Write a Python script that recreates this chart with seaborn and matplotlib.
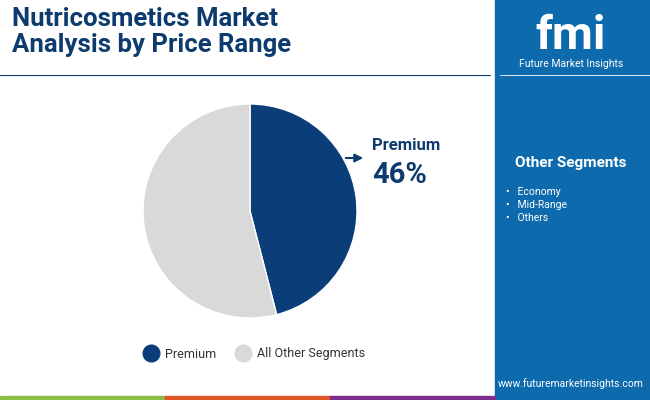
import matplotlib.pyplot as plt
import seaborn as sns
from matplotlib.patches import Rectangle

# Data
segments = ["Premium", "All Other Segments"]
shares = [46, 54]
other_segments = ["Economy", "Mid-Range", "Others"]

navy = "#0b3d79"
grey = "#d9d9d9"
panel = "#0d6aad"
title_col = "#0d3b6e"

sns.set_theme(style="white")
plt.rcParams["font.family"] = "Roboto"

fig = plt.figure(figsize=(6.5, 4), dpi=100)
fig.patch.set_facecolor("white")

# right panel and bottom stripe
fig.add_artist(Rectangle((495 / 650, 0), 155 / 650, 1, transform=fig.transFigure,
                         color=panel, zorder=0))
for x0, c in [(0, "#8cbd45"), (165, "#e0582a"), (330, "#7d2e8a")]:
    fig.add_artist(Rectangle((x0 / 650, 0), 165 / 650, 4 / 400, transform=fig.transFigure,
                             color=c, zorder=1))
fig.add_artist(plt.Line2D([0, 490 / 650], [1 - 75 / 400] * 2, transform=fig.transFigure,
                          color=title_col, lw=0.8))
fig.add_artist(plt.Line2D([500 / 650, 1], [1 - 75 / 400] * 2, transform=fig.transFigure,
                          color="white", lw=0.6))

fig.text(12 / 650, 1 - 32 / 400, "Nutricosmetics Market\nAnalysis by Price Range",
         color=title_col, fontsize=18.5, fontweight="bold", va="center", linespacing=1.1)

# pie
ax = fig.add_axes([143 / 650, 1 - 318 / 400, 214 / 650, 214 / 400])
ax.pie(shares, colors=[navy, grey], startangle=90, counterclock=False, radius=1)
ax.set_xlim(-1, 1)
ax.set_ylim(-1, 1)
ax.set_aspect("equal")

ax.annotate("", xy=(366 / 650, 1 - 158 / 400), xytext=(343 / 650, 1 - 158 / 400),
            xycoords="figure fraction",
            arrowprops=dict(arrowstyle="-|>", color=title_col, lw=1.5))
fig.text(372 / 650, 1 - 145 / 400, segments[0], color=title_col, fontsize=12,
         fontweight="bold", va="center")
fig.text(372 / 650, 1 - 175 / 400, f"{shares[0]}%", color=title_col, fontsize=21,
         fontweight="bold", va="center")

# legend
for x, c, lab in [(151, navy, segments[0]), (243, grey, segments[1])]:
    fig.add_artist(plt.Line2D([x / 650], [1 - 353 / 400], marker="o", markersize=12,
                              color=c, transform=fig.transFigure))
    fig.text((x + 14) / 650, 1 - 354 / 400, lab, fontsize=9, color="#333333", va="center")

# logo
fig.text(571 / 650, 1 - 36 / 400, "fmi", color="white", fontsize=34, fontweight="bold",
         ha="center", va="center")
fig.text(571 / 650, 1 - 64 / 400, "Future Market Insights", color="white", fontsize=7.5,
         ha="center", va="center")

fig.text(571 / 650, 1 - 163 / 400, "Other Segments", color="white", fontsize=11,
         fontweight="bold", ha="center", va="center")
for i, s in enumerate(other_segments):
    fig.text(506 / 650, 1 - (192 + 13 * i) / 400, "\u2022   " + s, color="white",
             fontsize=7.5, va="center")
fig.text(571 / 650, 1 - 384 / 400, "www.futuremarketinsights.com", color="white",
         fontsize=7.5, ha="center", va="center")

fig.savefig("out.png", dpi=100)
